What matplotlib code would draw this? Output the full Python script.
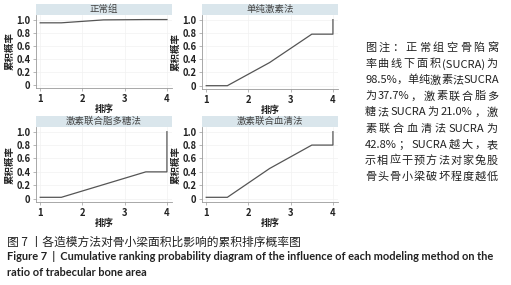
import re
import numpy as np
import matplotlib
matplotlib.use('Agg')
import matplotlib.pyplot as plt
from matplotlib.patches import Rectangle

plt.rcParams['font.family'] = ['Noto Sans CJK SC', 'DejaVu Sans']

# data
titles = ['正常组', '单纯激素法', '激素联合脂多糖法', '激素联合血清法']
rank_x = [1, 1.5, 2.5, 3.5, 4, 4]
cum_prob = [
    [0.95, 0.95, 0.995, 1.0, 1.0, 1.0],
    [0.0, 0.0, 0.35, 0.78, 0.78, 1.0],
    [0.02, 0.02, 0.21, 0.40, 0.40, 1.0],
    [0.02, 0.02, 0.45, 0.80, 0.80, 1.0],
]
yticks = [0, 0.2, 0.4, 0.6, 0.8, 1.0]
ytick_labels = ['0', '0.2', '0.4', '0.6', '0.8', '1.0']

note_lines = [
    '图注：正常组空骨陷窝',
    '率曲线下面积 (SUCRA) 为',
    '98.5%，单纯激素法 SUCRA',
    '为 37.7%，激素联合脂多',
    '糖法 SUCRA 为 21.0%，激',
    '素联合血清法 SUCRA 为',
    '42.8%；SUCRA 越 大， 表',
    '示相应干预方法对家兔股',
    '骨头骨小梁破坏程度越低',
]
cap_cn = '图 7 丨各造模方法对骨小梁面积比影响的累积排序概率图'
cap_en1 = 'Figure 7  |  Cumulative ranking probability diagram of the influence of each modeling method on the'
cap_en2 = 'ratio of trabecular bone area'

W, H = 511, 285
fig = plt.figure(figsize=(W / 100, H / 100), dpi=100)

# panel boxes in pixels: left, top(of plot area), width, height
boxes = [(36, 15, 136, 73), (202, 15, 136, 74), (36, 127, 136, 75), (202, 127, 136, 75)]
head_h = 11

for i, (l, t, w, h) in enumerate(boxes):
    ax = fig.add_axes([l / W, 1 - (t + h) / H, w / W, h / H])
    ax.plot(rank_x, cum_prob[i], color='#555555', lw=0.9)
    ax.set_xlim(0.9, 4.12)
    ax.set_ylim(-0.05, 1.07)
    ax.set_xticks([1, 2, 3, 4])
    ax.set_yticks(yticks)
    ax.set_yticklabels(ytick_labels)
    ax.grid(color='#f2f2f2', lw=0.5)
    ax.set_axisbelow(True)
    for s in ['top', 'right']:
        ax.spines[s].set_visible(False)
    for s in ['left', 'bottom']:
        ax.spines[s].set_color('#9a9a9a')
        ax.spines[s].set_linewidth(0.6)
    ax.tick_params(length=2.5, width=0.5, color='#9a9a9a', labelsize=6.8, pad=1.5)
    for lab in ax.get_xticklabels() + ax.get_yticklabels():
        lab.set_fontweight('bold')
        lab.set_color('#222222')
    ax.set_xlabel('排序', fontsize=6.8, fontweight='bold', labelpad=0, color='#222222')
    ax.set_ylabel('累积概率', fontsize=6.8, fontweight='bold', labelpad=1, color='#222222')
    # header strip
    hh = head_h / h
    ax.add_patch(Rectangle((0, 1), 1, hh, transform=ax.transAxes, clip_on=False,
                           facecolor='#dae6ec', edgecolor='none'))
    ax.text(0.5, 1 + hh / 2, titles[i], transform=ax.transAxes, ha='center', va='center',
            fontsize=6.8, color='#444444')

# justified note text on the right
fig.canvas.draw()
renderer = fig.canvas.get_renderer()
x0, x1 = 365, 498
y_first, step = 48, 16.1
for k, line in enumerate(note_lines):
    tokens = re.findall(r'[A-Za-z0-9.%()]+|\S', line)
    y = 1 - (y_first + k * step) / H
    arts = [fig.text(0, y, tok, fontsize=8.0, color='#222222', va='center', ha='left')
            for tok in tokens]
    widths = [a.get_window_extent(renderer).width for a in arts]
    gap = (x1 - x0 - sum(widths)) / max(len(tokens) - 1, 1)
    if gap < 0:
        gap = 0
    xx = x0
    for a, wd in zip(arts, widths):
        a.set_x(xx / W)
        xx += wd + gap

fig.text(7 / W, 1 - 242 / H, cap_cn, fontsize=8.5, color='#222222', va='center', ha='left')
fig.text(7 / W, 1 - 256 / H, cap_en1, fontsize=7.95, fontweight='bold', family='Lato',
         color='#222222', va='center', ha='left')
fig.text(7 / W, 1 - 273 / H, cap_en2, fontsize=7.95, fontweight='bold', family='Lato',
         color='#222222', va='center', ha='left')

fig.savefig('out.png', dpi=100)
